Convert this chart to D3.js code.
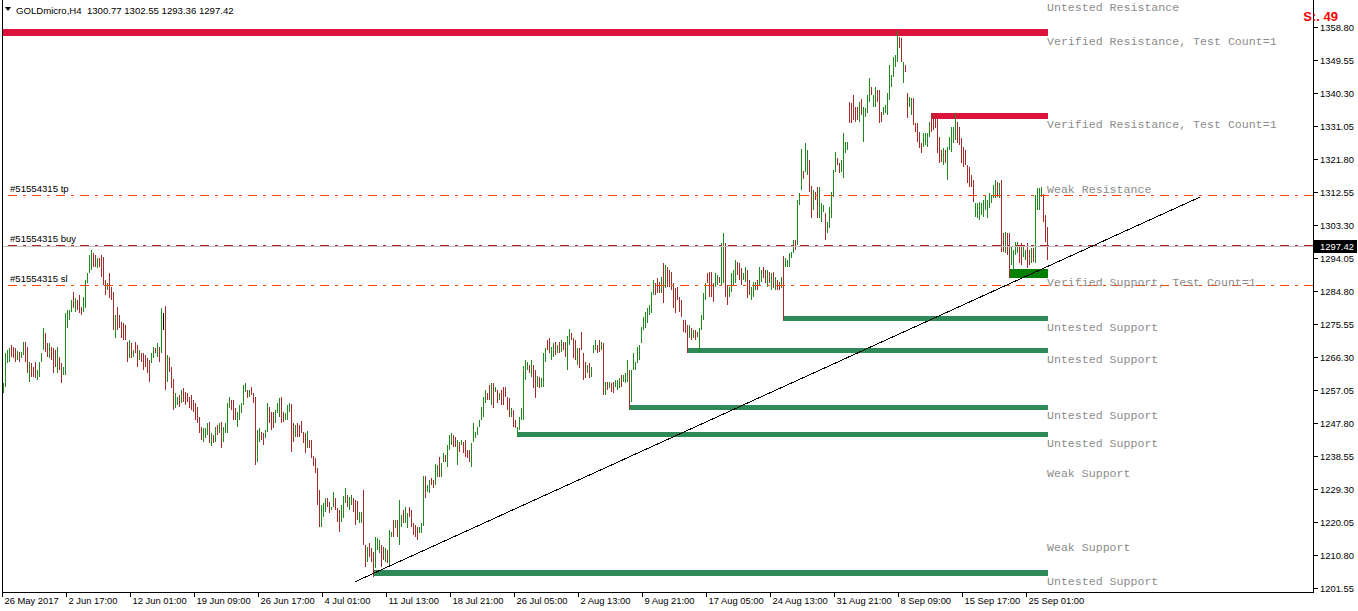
<!DOCTYPE html>
<html><head><meta charset="utf-8">
<script src="https://cdn.jsdelivr.net/npm/d3@7"></script>
<style>html,body{margin:0;padding:0;background:#fff;overflow:hidden}</style>
</head><body>
<svg id="c" width="1358" height="611"></svg>
<script>
// ---------------- DATA ----------------
const symbolTitle = "GOLDmicro,H4";
const lastOHLC = [1300.77, 1302.55, 1293.36, 1297.42];

const opens = [
1256.6,1258.5,1265.3,1265.5,1268.0,1266.9,1267.8,1265.6,1267.2,1266.1,
1267.3,1269.9,1266.0,1260.1,1263.9,1262.8,1263.8,1260.2,1261.6,1265.0,
1268.5,1272.5,1269.0,1266.7,1268.6,1266.0,1266.8,1263.0,1265.8,1263.6,
1261.5,1262.2,1275.0,1277.2,1279.2,1283.0,1279.5,1281.8,1282.0,1279.9,
1279.2,1281.0,1287.3,1290.0,1291.2,1295.0,1294.2,1291.7,1293.6,1293.8,
1293.5,1287.4,1285.3,1288.5,1285.0,1283.5,1272.5,1278.8,1277.3,1275.4,
1274.9,1274.6,1270.0,1266.4,1269.7,1266.6,1270.0,1268.7,1265.8,1267.0,
1266.6,1266.0,1265.0,1264.5,1265.0,1266.5,1268.5,1266.8,1268.5,1268.0,
1276.0,1276.5,1260.0,1265.5,1262.7,1259.0,1252.4,1253.2,1255.0,1253.7,
1257.0,1255.8,1255.5,1254.5,1254.9,1253.6,1252.6,1251.5,1248.8,1245.9,
1243.0,1244.0,1244.9,1247.2,1241.8,1244.0,1242.8,1246.8,1245.2,1247.4,
1242.8,1245.3,1246.0,1252.3,1253.8,1253.5,1251.2,1247.2,1249.2,1251.0,
1253.3,1256.8,1256.6,1255.3,1257.3,1255.8,1254.2,1237.8,1243.0,1244.8,
1244.4,1243.8,1245.6,1251.6,1250.2,1250.0,1248.2,1250.9,1250.1,1254.2,
1250.3,1248.8,1249.3,1251.3,1252.6,1247.0,1244.2,1247.2,1246.6,1247.8,
1244.8,1244.3,1241.2,1242.6,1242.2,1238.2,1237.4,1234.5,1227.0,1219.3,
1221.8,1223.2,1226.2,1225.0,1223.4,1224.5,1226.2,1223.4,1222.7,1220.4,
1221.6,1225.7,1227.0,1223.8,1225.1,1226.2,1225.5,1225.2,1220.0,1220.2,
1222.5,1213.0,1209.2,1213.5,1212.0,1210.5,1207.8,1212.6,1211.8,1213.0,
1212.3,1209.2,1211.6,1208.6,1215.9,1219.8,1218.6,1219.9,1214.5,1219.0,
1222.8,1220.3,1218.8,1223.8,1222.6,1219.2,1218.5,1218.0,1217.0,1217.3,
1219.4,1232.0,1228.6,1228.5,1232.0,1231.4,1230.7,1233.0,1237.5,1233.0,
1237.0,1238.5,1236.0,1240.6,1242.0,1244.0,1243.4,1240.5,1242.0,1241.7,
1242.0,1242.3,1239.8,1239.6,1236.2,1242.8,1243.8,1244.7,1246.8,1248.9,
1250.0,1253.8,1255.8,1257.8,1253.5,1258.2,1256.6,1256.6,1254.4,1256.4,
1257.2,1257.4,1254.6,1254.2,1249.7,1251.0,1248.2,1244.2,1246.2,1249.0,
1250.0,1260.5,1262.9,1263.6,1261.2,1263.5,1262.0,1258.2,1260.2,1258.1,
1258.5,1265.3,1270.6,1271.0,1265.9,1266.7,1270.0,1267.6,1270.0,1268.0,
1270.2,1270.0,1263.5,1270.0,1272.7,1271.0,1270.4,1264.5,1268.2,1272.8,
1266.8,1264.3,1262.0,1264.0,1261.0,1267.6,1268.6,1269.2,1270.5,1268.5,
1269.8,1256.0,1258.9,1257.8,1258.6,1258.8,1258.1,1257.4,1258.0,1260.8,
1259.5,1259.4,1259.8,1262.0,1254.0,1263.0,1262.9,1265.0,1265.9,1270.6,
1274.2,1274.9,1276.2,1278.4,1279.2,1284.0,1286.6,1288.0,1286.9,1284.6,
1288.5,1286.0,1291.0,1290.2,1289.6,1286.5,1285.0,1285.4,1282.6,1281.7,
1276.2,1276.0,1274.6,1272.0,1274.0,1271.8,1273.4,1273.0,1268.4,1274.2,
1277.2,1282.7,1289.4,1289.6,1289.4,1286.5,1286.3,1286.8,1288.4,1287.2,
1288.0,1297.5,1286.0,1283.4,1285.0,1286.9,1287.5,1292.5,1292.0,1290.7,
1288.1,1287.7,1290.2,1287.3,1282.7,1283.6,1285.3,1287.4,1286.9,1287.7,
1291.0,1290.2,1286.4,1289.6,1285.6,1289.6,1285.5,1287.4,1287.0,1285.9,
1293.0,1291.8,1291.8,1292.0,1294.3,1295.8,1298.7,1298.0,1309.2,1313.5,
1318.0,1318.5,1318.5,1321.0,1313.5,1307.9,1312.2,1313.0,1306.0,1304.6,
1307.2,1306.2,1301.4,1302.9,1305.8,1311.6,1318.6,1321.8,1320.3,1318.6,
1317.5,1323.9,1324.6,1337.2,1336.9,1339.0,1335.9,1336.0,1332.8,1338.2,
1333.0,1333.9,1335.2,1338.3,1341.6,1336.8,1336.9,1340.7,1340.5,1334.6,
1334.4,1335.0,1334.7,1338.9,1342.4,1345.3,1348.0,1349.5,1355.7,1355.2,
1343.6,1347.9,1339.8,1336.7,1334.6,1338.4,1331.6,1331.4,1329.0,1325.9,
1325.6,1326.1,1325.6,1328.4,1333.6,1334.0,1334.2,1332.8,1327.4,1324.0,
1320.6,1323.8,1316.8,1324.7,1324.3,1326.7,1327.7,1331.6,1330.2,1327.1,
1324.6,1323.8,1319.6,1319.0,1316.9,1315.4,1306.0,1305.8,1305.2,1306.5,
1306.0,1307.9,1305.8,1308.5,1309.7,1311.2,1311.3,1315.0,1311.3,1314.5,
1300.5,1296.0,1300.4,1300.3,1292.6,1291.2,1295.3,1295.9,1296.6,1297.7,
1294.6,1293.8,1297.6,1295.8,1293.0,1296.3,1293.4,1308.0,1308.2,1311.5,
1311.5,1305.5,1300.77];

const highs = [
1258.9,1267.3,1268.2,1268.7,1269.6,1269.0,1268.7,1267.9,1267.6,1267.6,
1270.4,1270.4,1269.0,1264.8,1264.5,1263.4,1264.8,1262.6,1264.8,1267.3,
1274.4,1272.9,1270.1,1270.1,1269.0,1268.7,1268.2,1269.0,1266.2,1264.5,
1263.4,1278.6,1279.4,1279.4,1282.2,1284.5,1282.8,1282.2,1283.6,1280.2,
1283.0,1287.8,1289.8,1294.8,1296.2,1295.4,1294.8,1294.0,1294.0,1294.8,
1294.3,1287.8,1287.0,1289.8,1285.9,1284.5,1278.0,1280.2,1278.0,1276.0,
1275.8,1275.2,1270.4,1271.0,1270.1,1268.2,1270.4,1269.6,1268.2,1267.3,
1267.3,1266.8,1265.9,1265.4,1267.3,1269.0,1268.7,1270.1,1269.0,1280.0,
1278.6,1280.5,1266.8,1266.2,1263.4,1260.0,1256.1,1255.0,1255.6,1257.0,
1257.5,1256.4,1256.1,1255.0,1255.6,1254.1,1253.3,1252.2,1249.4,1246.6,
1246.3,1246.3,1247.7,1248.0,1244.9,1244.3,1246.6,1247.1,1247.7,1248.0,
1246.6,1247.7,1253.3,1255.0,1254.1,1254.1,1251.9,1250.8,1252.7,1253.3,
1258.4,1258.9,1257.0,1257.0,1257.8,1256.1,1255.0,1245.7,1246.3,1245.2,
1244.9,1245.7,1253.3,1252.2,1250.8,1250.8,1251.3,1253.3,1254.7,1255.0,
1250.8,1250.5,1252.7,1253.3,1253.0,1247.7,1247.1,1247.7,1247.1,1248.3,
1245.2,1244.9,1245.4,1242.9,1242.9,1238.4,1237.9,1235.1,1228.9,1224.7,
1225.2,1226.6,1226.6,1225.5,1224.1,1228.3,1226.6,1223.8,1223.3,1224.7,
1227.2,1229.5,1227.5,1226.9,1227.5,1226.6,1226.1,1225.8,1222.7,1222.7,
1228.9,1213.5,1212.9,1214.0,1212.6,1211.5,1215.7,1215.4,1214.9,1213.5,
1212.9,1212.6,1212.1,1217.7,1217.1,1220.5,1220.5,1220.5,1226.1,1221.9,
1223.3,1224.1,1222.4,1224.1,1223.3,1219.6,1219.1,1218.5,1218.5,1219.6,
1232.8,1232.8,1230.3,1231.7,1232.3,1231.7,1236.2,1235.9,1238.2,1236.5,
1239.3,1238.7,1241.5,1244.3,1244.9,1244.3,1243.8,1242.9,1242.4,1242.9,
1242.4,1242.9,1240.1,1240.1,1242.1,1247.7,1245.2,1246.6,1248.5,1252.2,
1255.0,1257.0,1256.1,1258.4,1258.9,1258.9,1257.8,1257.0,1256.1,1257.0,
1257.8,1257.8,1255.0,1254.7,1251.9,1251.3,1248.5,1246.6,1249.4,1251.9,
1263.7,1265.4,1264.8,1264.0,1265.4,1264.0,1262.6,1260.9,1260.6,1260.3,
1267.3,1268.7,1271.0,1271.5,1269.0,1270.1,1270.4,1269.6,1270.4,1271.0,
1270.4,1270.4,1272.1,1274.1,1272.9,1271.5,1271.0,1268.7,1268.7,1273.2,
1267.3,1264.8,1264.0,1264.5,1263.4,1269.6,1271.0,1269.6,1271.0,1270.4,
1270.1,1259.2,1259.2,1259.2,1258.9,1259.2,1259.8,1259.8,1260.3,1261.2,
1261.2,1261.7,1265.4,1262.6,1262.6,1267.3,1264.8,1269.0,1269.6,1274.6,
1277.4,1278.8,1280.0,1280.8,1284.5,1287.8,1287.0,1288.4,1287.3,1288.7,
1292.6,1292.0,1291.5,1290.6,1290.1,1287.0,1285.6,1285.9,1283.0,1282.2,
1276.6,1276.6,1275.2,1275.2,1274.4,1273.8,1273.8,1273.2,1274.4,1278.0,
1284.2,1287.0,1289.8,1290.1,1290.1,1287.0,1289.8,1289.2,1288.7,1298.2,
1301.0,1298.2,1286.4,1285.9,1289.8,1290.6,1293.4,1292.9,1292.6,1291.2,
1289.8,1291.5,1290.6,1287.8,1285.9,1287.3,1287.3,1287.8,1291.5,1290.6,
1291.5,1290.6,1290.6,1290.1,1289.8,1290.1,1288.7,1287.8,1287.3,1288.7,
1294.6,1294.0,1293.4,1295.4,1295.7,1299.0,1299.0,1310.3,1312.2,1324.6,
1318.4,1326.3,1324.3,1321.5,1314.2,1313.1,1312.5,1313.9,1313.9,1309.4,
1308.9,1306.6,1304.1,1308.3,1312.5,1318.7,1323.7,1322.1,1320.6,1321.5,
1329.1,1326.5,1326.5,1337.8,1337.5,1339.7,1336.4,1336.4,1337.8,1338.6,
1336.4,1336.1,1339.7,1344.5,1342.0,1339.7,1342.0,1341.1,1341.1,1335.0,
1336.4,1336.9,1340.3,1348.1,1345.3,1350.4,1351.0,1357.7,1356.0,1355.7,
1349.0,1348.1,1340.3,1339.2,1338.9,1338.9,1331.9,1331.9,1329.3,1326.3,
1329.1,1329.1,1329.1,1332.2,1334.6,1334.7,1334.7,1333.3,1327.9,1324.3,
1324.9,1324.3,1325.1,1327.9,1330.7,1330.7,1334.6,1332.2,1330.7,1327.7,
1325.1,1324.3,1320.1,1319.5,1317.3,1315.9,1309.4,1309.4,1309.7,1309.4,
1310.3,1311.7,1310.3,1312.2,1311.7,1314.5,1315.9,1315.3,1315.0,1315.9,
1301.0,1301.3,1301.0,1301.0,1297.1,1296.2,1298.5,1298.5,1297.1,1298.2,
1297.1,1296.2,1298.2,1296.2,1296.8,1296.8,1311.7,1313.6,1313.6,1313.9,
1312.0,1306.1,1302.55];

const lows = [
1256.1,1257.8,1264.5,1264.8,1266.2,1265.9,1264.8,1265.4,1264.8,1265.9,
1266.8,1264.8,1261.7,1259.2,1260.6,1260.6,1260.3,1259.8,1260.6,1264.8,
1268.2,1267.6,1266.2,1265.9,1265.4,1261.7,1263.4,1261.7,1262.6,1258.9,
1261.2,1261.2,1274.4,1276.6,1278.8,1280.0,1278.8,1279.4,1278.6,1278.0,
1278.8,1280.0,1287.0,1289.8,1290.6,1291.5,1291.5,1291.2,1291.5,1288.7,
1286.4,1283.6,1285.0,1282.8,1282.2,1273.8,1271.5,1273.8,1274.4,1271.5,
1271.0,1271.0,1264.8,1265.9,1265.9,1266.2,1267.3,1263.4,1265.4,1264.8,
1262.6,1263.4,1261.7,1259.2,1264.5,1265.9,1267.3,1266.2,1264.8,1267.3,
1273.8,1257.0,1259.2,1262.0,1257.5,1251.3,1251.9,1252.7,1252.2,1253.3,
1253.6,1252.7,1253.6,1251.9,1251.3,1250.8,1248.5,1247.7,1244.9,1242.9,
1242.4,1243.5,1244.3,1242.1,1241.2,1242.1,1242.4,1244.3,1244.9,1240.7,
1242.4,1244.9,1244.9,1251.9,1251.3,1248.5,1248.5,1246.6,1248.5,1250.5,
1252.7,1256.4,1254.7,1255.0,1255.6,1253.3,1235.9,1236.7,1242.4,1242.9,
1241.5,1243.5,1245.2,1247.7,1245.7,1246.3,1247.7,1250.5,1249.4,1247.7,
1248.0,1248.5,1248.5,1250.8,1239.6,1242.4,1243.8,1243.8,1243.8,1244.9,
1242.1,1239.3,1240.7,1240.7,1237.9,1235.6,1233.7,1224.7,1218.5,1218.5,
1221.3,1222.7,1224.1,1222.4,1223.3,1224.1,1223.3,1219.9,1217.1,1219.9,
1221.0,1225.2,1224.1,1223.3,1224.7,1222.7,1219.1,1220.5,1219.6,1219.6,
1213.5,1207.3,1208.7,1210.1,1208.7,1204.5,1207.0,1212.1,1211.2,1207.3,
1209.3,1208.7,1208.4,1207.8,1215.7,1215.7,1218.2,1215.7,1213.5,1218.5,
1219.6,1219.6,1218.2,1221.3,1218.5,1216.3,1215.7,1214.9,1216.8,1216.8,
1218.8,1226.6,1228.3,1228.1,1230.3,1229.5,1230.3,1232.5,1232.5,1232.5,
1236.7,1236.7,1235.3,1240.1,1241.5,1241.0,1241.0,1235.9,1239.6,1241.5,
1239.3,1238.2,1237.9,1236.7,1235.3,1242.4,1243.5,1244.3,1246.6,1248.5,
1249.4,1253.3,1254.1,1254.1,1252.7,1251.9,1256.4,1253.3,1254.1,1252.7,
1252.7,1255.0,1251.3,1249.4,1249.4,1246.6,1246.3,1243.8,1245.7,1248.5,
1248.5,1259.8,1262.6,1261.7,1260.6,1257.5,1254.7,1257.8,1257.5,1257.8,
1257.8,1264.8,1268.2,1267.3,1265.4,1266.2,1266.8,1267.3,1267.3,1267.6,
1268.2,1266.2,1262.6,1269.6,1271.0,1265.9,1265.4,1264.0,1263.1,1268.2,
1259.8,1260.3,1261.7,1260.3,1260.6,1267.3,1268.2,1267.3,1267.6,1268.2,
1255.6,1255.6,1257.0,1257.5,1256.4,1256.1,1257.8,1257.0,1257.5,1257.8,
1259.2,1258.9,1259.2,1251.6,1253.6,1262.6,1262.6,1264.5,1265.4,1270.1,
1273.8,1274.4,1275.8,1278.0,1278.6,1283.6,1283.6,1284.2,1284.2,1284.2,
1281.4,1285.6,1285.9,1285.9,1285.0,1280.0,1278.6,1282.2,1278.8,1277.4,
1273.2,1272.9,1267.3,1271.5,1271.0,1271.5,1271.0,1271.8,1267.6,1273.8,
1276.6,1282.2,1287.0,1283.0,1283.0,1281.6,1285.9,1286.4,1287.0,1286.4,
1287.0,1283.0,1280.8,1283.0,1284.5,1286.4,1287.0,1289.2,1287.8,1286.4,
1287.8,1287.3,1282.8,1283.6,1282.2,1283.0,1285.0,1285.0,1286.4,1287.3,
1288.4,1287.0,1285.9,1287.0,1285.0,1285.6,1285.0,1285.0,1285.0,1285.6,
1276.6,1291.5,1291.5,1291.5,1294.0,1295.4,1296.2,1297.6,1308.9,1313.1,
1316.2,1318.1,1317.3,1312.5,1305.2,1307.5,1310.3,1305.2,1305.2,1304.1,
1306.9,1299.0,1301.0,1302.4,1305.2,1311.1,1318.1,1320.1,1317.8,1318.1,
1316.4,1323.5,1324.3,1331.9,1331.9,1332.7,1332.2,1332.7,1332.2,1334.1,
1326.5,1333.6,1334.7,1337.8,1339.7,1336.4,1336.4,1337.8,1331.9,1332.2,
1334.1,1334.7,1334.1,1338.3,1342.0,1344.8,1347.6,1349.0,1352.9,1349.0,
1343.1,1346.2,1333.3,1336.4,1334.1,1331.3,1329.3,1326.5,1324.9,1323.5,
1325.1,1325.7,1325.1,1327.9,1329.3,1329.9,1330.5,1323.5,1320.6,1320.9,
1320.1,1320.6,1315.9,1324.3,1323.7,1326.3,1327.1,1326.3,1325.7,1320.6,
1319.5,1320.1,1315.0,1313.9,1313.9,1309.7,1305.5,1305.2,1304.7,1306.1,
1305.5,1307.5,1305.2,1308.0,1309.4,1310.8,1310.8,1311.1,1310.8,1295.7,
1295.7,1295.4,1294.8,1288.4,1292.0,1290.6,1294.8,1295.4,1292.6,1292.0,
1294.3,1293.4,1291.2,1292.0,1292.6,1292.9,1292.6,1307.5,1307.5,1311.1,
1304.1,1298.5,1293.36];

const closes = [
1258.5,1265.8,1267.6,1268.0,1266.8,1266.3,1265.4,1267.2,1265.3,1267.3,
1269.9,1265.6,1262.5,1263.9,1261.2,1261.0,1260.9,1262.0,1264.2,1266.9,
1273.2,1268.9,1266.8,1269.4,1265.9,1262.6,1264.0,1268.0,1263.1,1259.8,
1262.9,1276.5,1278.6,1279.0,1281.6,1280.6,1282.2,1279.9,1279.3,1278.4,
1282.5,1287.0,1289.3,1294.0,1295.5,1292.0,1292.1,1293.5,1291.9,1289.5,
1287.4,1284.6,1286.6,1283.6,1282.7,1275.2,1277.0,1274.5,1274.9,1272.2,
1271.6,1271.4,1265.6,1270.2,1266.5,1267.8,1267.8,1264.3,1267.6,1265.2,
1263.3,1263.9,1262.4,1260.2,1266.9,1268.5,1267.6,1269.6,1265.6,1278.0,
1276.0,1259.5,1265.5,1262.7,1258.4,1252.5,1255.4,1254.6,1252.7,1256.4,
1254.2,1253.3,1254.0,1252.4,1251.9,1251.3,1249.2,1248.3,1245.5,1243.5,
1245.7,1245.8,1247.1,1242.8,1244.2,1242.5,1246.0,1244.8,1247.2,1241.5,
1246.0,1247.3,1252.5,1254.5,1251.8,1249.3,1249.0,1250.2,1252.2,1252.9,
1257.6,1258.5,1255.0,1256.6,1255.9,1253.8,1238.0,1244.5,1245.8,1243.3,
1242.0,1245.3,1252.3,1248.4,1246.5,1247.0,1250.8,1252.8,1254.0,1248.6,
1248.4,1250.1,1252.1,1252.9,1241.0,1243.0,1246.6,1244.3,1244.2,1245.3,
1242.6,1240.0,1244.8,1241.0,1238.5,1236.0,1234.2,1226.0,1219.5,1223.8,
1224.7,1226.0,1224.6,1222.9,1224.0,1227.6,1223.8,1220.5,1218.0,1224.0,
1226.4,1228.9,1224.7,1226.3,1227.0,1223.3,1220.0,1221.0,1222.2,1222.3,
1214.5,1208.2,1212.2,1210.7,1209.2,1205.5,1214.9,1214.9,1214.3,1208.0,
1209.8,1212.0,1208.9,1216.9,1216.8,1216.3,1220.1,1216.4,1221.5,1221.4,
1220.2,1223.5,1221.9,1221.8,1219.2,1216.8,1216.3,1215.5,1218.2,1219.2,
1231.0,1227.5,1230.0,1231.2,1230.6,1229.8,1235.4,1235.5,1233.2,1236.0,
1238.9,1237.1,1240.8,1243.8,1244.4,1241.5,1241.3,1242.5,1240.0,1242.7,
1239.8,1238.8,1238.2,1237.3,1241.5,1245.0,1244.9,1246.2,1248.2,1251.7,
1254.3,1256.4,1254.5,1254.7,1258.2,1252.6,1257.5,1253.8,1255.8,1253.3,
1253.4,1255.4,1251.9,1250.0,1251.5,1247.2,1246.6,1246.1,1248.9,1251.4,
1262.5,1264.8,1264.5,1262.2,1264.8,1258.3,1255.6,1260.4,1258.0,1259.9,
1266.3,1268.2,1268.6,1267.9,1268.5,1269.6,1267.3,1269.2,1267.8,1270.5,
1268.5,1266.8,1271.4,1273.5,1271.3,1266.6,1266.0,1268.1,1263.8,1268.7,
1260.5,1260.9,1263.6,1260.9,1262.9,1269.2,1270.5,1267.8,1268.1,1270.0,
1257.0,1258.7,1257.3,1258.9,1256.9,1256.6,1259.4,1259.3,1259.9,1258.3,
1260.9,1261.3,1264.6,1253.0,1261.8,1266.8,1264.5,1268.5,1269.1,1274.1,
1277.0,1278.3,1279.4,1280.4,1283.8,1287.3,1284.1,1284.8,1284.7,1288.1,
1282.5,1291.3,1286.5,1286.4,1285.7,1280.8,1279.3,1282.7,1279.4,1278.0,
1273.8,1273.5,1268.2,1274.7,1271.5,1273.4,1271.4,1272.1,1273.6,1277.5,
1283.4,1286.4,1287.4,1283.8,1283.6,1282.3,1289.2,1288.8,1287.3,1296.8,
1298.5,1284.5,1281.5,1285.4,1289.2,1290.1,1292.8,1289.8,1288.4,1287.0,
1289.5,1290.9,1283.5,1284.2,1285.3,1286.7,1286.9,1285.5,1290.9,1290.2,
1288.8,1287.5,1290.0,1287.4,1289.2,1286.1,1288.2,1285.5,1285.4,1288.2,
1291.5,1293.6,1293.1,1294.9,1295.4,1298.5,1296.6,1309.0,1311.8,1318.8,
1316.5,1325.0,1323.6,1313.5,1306.0,1312.5,1310.6,1306.0,1313.0,1308.9,
1308.6,1299.8,1303.7,1307.8,1311.9,1318.0,1323.1,1320.4,1318.3,1321.0,
1327.5,1326.1,1326.2,1332.5,1332.4,1333.5,1332.7,1333.2,1337.0,1334.7,
1335.7,1335.7,1339.1,1343.8,1340.1,1339.3,1341.3,1338.2,1332.8,1332.6,
1336.0,1336.6,1339.7,1347.2,1345.0,1349.8,1350.5,1356.5,1353.3,1349.8,
1348.3,1346.5,1333.9,1338.8,1338.4,1332.0,1329.8,1327.2,1325.5,1323.9,
1328.5,1328.6,1328.7,1331.6,1330.0,1330.5,1331.0,1324.5,1321.4,1321.4,
1324.2,1321.1,1324.5,1327.4,1330.0,1330.2,1333.4,1327.0,1326.4,1321.5,
1320.2,1320.7,1315.7,1314.5,1314.3,1310.4,1308.9,1308.8,1309.1,1309.0,
1309.7,1311.1,1309.7,1311.7,1311.3,1314.0,1315.2,1311.6,1314.5,1297.0,
1296.3,1300.6,1295.6,1291.5,1296.4,1295.6,1298.0,1298.1,1293.2,1292.8,
1296.6,1295.8,1292.0,1292.6,1296.2,1293.4,1309.5,1312.0,1313.0,1313.4,
1304.8,1300.8,1297.42];

const timeLabels = ["26 May 2017","2 Jun 17:00","12 Jun 01:00","19 Jun 09:00","26 Jun 17:00",
  "4 Jul 01:00","11 Jul 13:00","18 Jul 21:00","26 Jul 05:00","2 Aug 13:00","9 Aug 21:00",
  "17 Aug 05:00","24 Aug 13:00","31 Aug 21:00","8 Sep 09:00","15 Sep 17:00","25 Sep 01:00"];
const barsPerTimeLabel = 32;

const priceTicks = [1358.80,1349.55,1340.30,1331.05,1321.80,1312.55,1303.30,1294.05,1284.80,
  1275.55,1266.30,1257.05,1247.80,1238.55,1229.30,1220.05,1210.80,1201.55];

// supply / demand zones
const zoneTop    = [1358.3, 1334.7, 1291.0, 1277.7, 1268.7, 1252.7, 1245.2, 1206.4];
const zoneBottom = [1356.3, 1333.0, 1288.4, 1276.3, 1267.3, 1251.3, 1243.8, 1204.9];
const zoneStartBar = [0, 464, 503, 390, 342, 313, 257, 185];
const zoneType   = ["res", "res", "verifiedSup", "sup", "sup", "sup", "sup", "sup"];

const zoneLabels = ["Untested Resistance","Verified Resistance, Test Count=1","Verified Resistance, Test Count=1",
  "Weak Resistance","Verified Support, Test Count=1","Untested Support","Untested Support",
  "Untested Support","Untested Support","Weak Support","Weak Support","Untested Support"];
const zoneLabelPrices = [1364.41,1354.87,1331.58,1313.07,1287.25,1274.62,1265.65,1249.93,1242.08,1233.66,1212.90,1203.36];

const orderLabels = ["#51554315 tp", "#51554315 buy", "#51554315 sl"];
const orderPrices = [1311.58, 1297.70, 1286.41];
const orderKinds  = ["tpsl", "entry", "tpsl"];
const bidPrice = 1297.42;

const trendBars   = [176, 598.5];
const trendPrices = [1203.16, 1311.10];

const signalText = "S:. 49";

// ---------------- DRAW ----------------
const svg = d3.select("#c");
const W = 1358, H = 611;
const plotL = 2, plotR = 1313, plotT = 0, plotB = 592;
const n = highs.length;

const x = d3.scaleLinear().domain([0, n - 1]).range([3, 1047]);
const y = d3.scaleLinear().domain([1201.55, 1358.80]).range([587.5, 27]);
const fontUI = "'Liberation Sans', Arial, sans-serif";

svg.append("rect").attr("width", W).attr("height", H).attr("fill", "#fff");

const colZone = {res: "#DC143C", verifiedSup: "#008000", sup: "#2E8B57"};
const zoneEnd = x(n - 1) + 1;
svg.append("g").selectAll("rect").data(zoneTop).join("rect")
  .attr("x", (d, i) => i === 0 ? plotL : Math.round(x(zoneStartBar[i])))
  .attr("y", (d) => Math.round(y(d)))
  .attr("width", (d, i) => zoneEnd - (i === 0 ? plotL : Math.round(x(zoneStartBar[i]))))
  .attr("height", (d, i) => Math.max(1, Math.round(y(zoneBottom[i])) - Math.round(y(d))))
  .attr("fill", (d, i) => colZone[zoneType[i]])
  .attr("shape-rendering", "crispEdges");

// bars (high-low lines, coloured by direction)
const bars = d3.range(n);
svg.append("g").attr("shape-rendering", "crispEdges").selectAll("rect").data(bars).join("rect")
  .attr("x", i => Math.round(x(i)))
  .attr("y", i => Math.round(y(highs[i])))
  .attr("width", 1)
  .attr("height", i => Math.max(1, Math.round(y(lows[i])) - Math.round(y(highs[i]))))
  .attr("fill", i => closes[i] > opens[i] ? "#1E8A1E" : (closes[i] < opens[i] ? "#A52A2A" : "#000"));

// bid line
const by = Math.round(y(bidPrice)) + 0.5;
svg.append("line").attr("x1", plotL + 1).attr("x2", plotR).attr("y1", by).attr("y2", by)
  .attr("stroke", "#C0C0C0").attr("stroke-width", 1);

// order lines
orderPrices.forEach((p, i) => {
  const yy = Math.round(y(p)) + 0.5;
  svg.append("line").attr("x1", plotL + 6).attr("x2", plotR).attr("y1", yy).attr("y2", yy)
    .attr("stroke", orderKinds[i] === "entry" ? "#B22222" : "#FF4500")
    .attr("stroke-width", 1).attr("stroke-dasharray", "9,6,3,6")
    .attr("shape-rendering", "crispEdges");
  svg.append("text").attr("x", 10).attr("y", yy - 3.5).text(orderLabels[i])
    .attr("font-family", fontUI).attr("font-size", "9.6px").attr("fill", "#000");
});

// trendline
svg.append("line")
  .attr("x1", x(trendBars[0])).attr("y1", y(trendPrices[0]))
  .attr("x2", x(trendBars[1])).attr("y2", y(trendPrices[1]))
  .attr("stroke", "#000").attr("stroke-width", 1).attr("shape-rendering", "crispEdges");

// zone labels
svg.append("g").selectAll("text").data(zoneLabels).join("text")
  .attr("x", 1047).attr("y", (d, i) => y(zoneLabelPrices[i]))
  .attr("dominant-baseline", "central")
  .attr("font-family", "'Liberation Mono', 'Courier New', monospace")
  .attr("font-size", "11.6px").attr("fill", "#8c8c8c")
  .style("white-space", "pre")
  .text(d => d);

// frame
const frame = svg.append("g").attr("stroke", "#000").attr("stroke-width", 1).attr("shape-rendering", "crispEdges");
frame.append("line").attr("x1", plotL + 0.5).attr("x2", plotL + 0.5).attr("y1", plotT).attr("y2", plotB + 0.5);
frame.append("line").attr("x1", plotL).attr("x2", plotR + 0.5).attr("y1", plotB + 0.5).attr("y2", plotB + 0.5);
frame.append("line").attr("x1", plotR + 0.5).attr("x2", plotR + 0.5).attr("y1", plotT).attr("y2", plotB + 0.5);

// price axis
const ya = svg.append("g");
priceTicks.forEach(v => {
  const yy = Math.round(y(v)) + 0.5;
  ya.append("line").attr("x1", plotR + 1).attr("x2", plotR + 5).attr("y1", yy).attr("y2", yy)
    .attr("stroke", "#000").attr("shape-rendering", "crispEdges");
  ya.append("text").attr("x", 1320).attr("y", yy).attr("dominant-baseline", "central")
    .attr("font-family", fontUI).attr("font-size", "9.4px").attr("fill", "#000")
    .text(v.toFixed(2));
});
// current price box
const cy = Math.round(y(bidPrice));
svg.append("rect").attr("x", plotR + 1).attr("y", cy - 6).attr("width", W - plotR - 2).attr("height", 13).attr("fill", "#000");
svg.append("text").attr("x", 1320).attr("y", cy + 0.5).attr("dominant-baseline", "central")
  .attr("font-family", fontUI).attr("font-size", "9.4px").attr("fill", "#fff").text(bidPrice.toFixed(2));

// time axis
const xa = svg.append("g");
timeLabels.forEach((t, k) => {
  const xx = Math.round(x(k * barsPerTimeLabel)) - 0.5;
  xa.append("line").attr("x1", xx).attr("x2", xx).attr("y1", plotB).attr("y2", plotB + 5)
    .attr("stroke", "#000").attr("shape-rendering", "crispEdges");
  xa.append("text").attr("x", xx + 2).attr("y", 604)
    .attr("font-family", fontUI).attr("font-size", "9.4px").attr("fill", "#000").text(t);
});

// title
svg.append("path").attr("d", "M5,7 L11,7 L8,11 Z").attr("fill", "#000");
svg.append("text").attr("x", 16).attr("y", 14)
  .attr("font-family", fontUI).attr("font-size", "9.6px").attr("fill", "#000")
  .style("white-space", "pre")
  .text(symbolTitle + "  " + lastOHLC.map(v => v.toFixed(2)).join(" "));

// signal text
svg.append("text").attr("x", 1338).attr("y", 21).attr("text-anchor", "end")
  .attr("font-family", fontUI).attr("font-size", "13px").attr("font-weight", "bold")
  .attr("fill", "#FF0000").style("white-space", "pre").text(signalText);
</script>
</body></html>
